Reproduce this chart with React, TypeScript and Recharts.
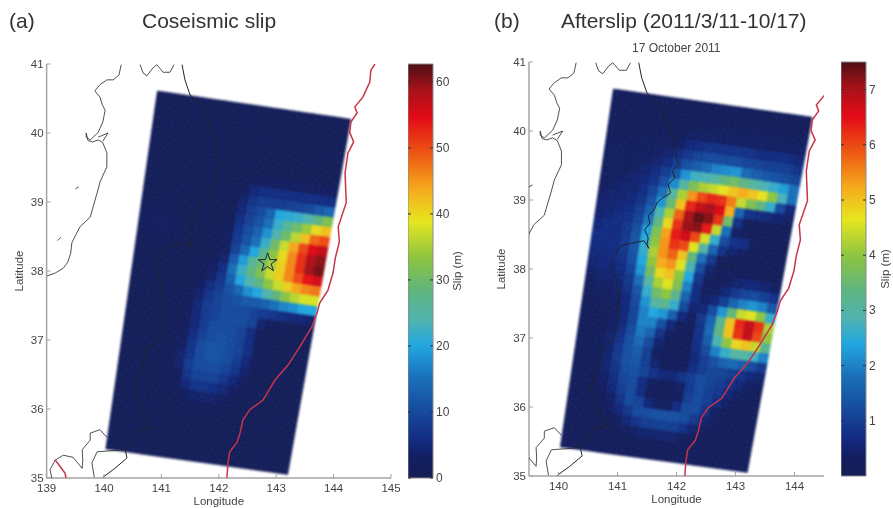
import { BarChart, Bar, ScatterChart, Scatter, XAxis, YAxis, Symbols } from 'recharts';

// slip grids, rows run from the top edge of the fault plane to the bottom
const coseismicRows = [
  [1,1,1,1,1,1,1,1,1,1,1,1,1,1,1,1,1,1,1,1],
  [1,1,1,1,1,1,1,1,1,1,1,1,1,1,1,1,1,1,1,1],
  [1,1,1,1,1,1,1,1,1,1,1,1,1,1,1,1,1,1,1,1],
  [1,1,1,1,1,1,1,1,1,1,1,1,1,1,1,1,1,1,1,1],
  [1,1,1,1,1,1,1,1,1,1,1,1,1,1,1,1,1,1,1,1],
  [1,1,1,1,1,1,1,1,1,1,1,1,1,1,1,1,1,1,1,1],
  [1,1,1,1,1,1,1,1,1,1,1,1,1,1,1,1,1,1,1,1],
  [1,1,1,1,1,1,1,1,1,1,1,2,3,3,3,3,3,3,3,3],
  [1,1,1,1,1,1,1,1,1,1,2,5,6,6,6,6,6,6,6,6],
  [1,1,1,1,1,1,1,1,1,1,4,7,8,8,8,9,9,10,12,14],
  [1,1,2,1,1,1,1,1,1,1,5,8,10,13,20,21,22,24,28,32],
  [2,2,2,1,1,1,1,1,1,2,6,9,11,15,22,26,30,34,40,42],
  [2,3,3,2,1,1,1,1,1,3,7,10,13,18,24,30,36,42,48,50],
  [2,3,3,2,1,1,1,1,1,3,8,11,15,22,30,37,44,50,55,57],
  [1,2,2,1,1,1,1,1,1,3,9,14,20,27,33,40,46,52,58,60],
  [1,1,1,1,1,1,1,1,2,4,12,19,26,30,35,41,46,52,59,61],
  [1,1,1,1,1,1,1,1,3,6,15,22,28,32,37,41,46,50,54,56],
  [1,1,1,1,1,1,1,1,4,7,13,20,24,28,33,37,41,44,46,47],
  [1,1,1,1,1,1,1,3,6,8,11,14,18,20,24,28,33,36,38,38],
  [1,1,1,1,1,1,2,4,7,9,10,11,12,12,13,15,17,18,20,20],
  [1,1,1,1,1,1,2,5,8,9,10,10,10,9,8,7,6,5,5,4],
  [1,1,1,1,1,1,2,5,8,9,10,10,10,9,4,2,2,1,1,1],
  [1,1,1,1,1,1,2,5,8,10,10,10,9,6,2,1,1,1,1,1],
  [1,1,1,1,1,1,3,6,9,10,11,10,9,6,2,1,1,1,1,1],
  [1,1,1,1,1,1,3,7,10,11,11,10,9,6,2,1,1,1,1,1],
  [1,1,1,1,1,1,4,7,10,11,11,10,8,5,2,1,1,1,1,1],
  [1,1,1,1,1,1,4,8,10,10,10,9,7,4,1,1,1,1,1,1],
  [1,1,1,1,1,1,3,7,9,9,9,7,5,3,1,1,1,1,1,1],
  [1,1,1,1,1,1,2,5,7,7,6,5,3,2,1,1,1,1,1,1],
  [1,1,1,1,1,1,1,3,4,4,4,3,2,1,1,1,1,1,1,1],
  [1,1,1,1,1,1,1,1,2,2,2,1,1,1,1,1,1,1,1,1],
  [1,1,1,1,1,1,1,1,1,1,1,1,1,1,1,1,1,1,1,1],
  [1,1,1,1,1,1,1,1,1,1,1,1,1,1,1,1,1,1,1,1],
  [1,1,1,1,1,1,1,1,1,1,1,1,1,1,1,1,1,1,1,1],
  [1,1,1,1,1,1,1,1,1,1,1,1,1,1,1,1,1,1,1,1],
  [1,1,1,1,1,1,1,1,1,1,1,1,1,1,1,1,1,1,1,1],
];

// afterslip in tenths of a metre
const afterslipRows = [
  [2,2,2,2,2,2,2,2,2,2,2,2,2,2,2,2,2,2,2,2],
  [2,2,2,2,2,2,2,2,2,2,2,2,2,2,2,2,2,2,2,2],
  [2,2,2,2,2,2,2,2,2,2,3,3,3,3,3,3,3,3,3,3],
  [2,2,2,2,2,2,2,2,4,4,4,4,4,4,4,4,4,4,4,4],
  [2,2,2,3,3,3,3,4,6,7,8,8,8,8,8,7,7,7,7,6],
  [3,3,3,3,3,4,5,7,9,11,12,12,12,12,11,11,10,10,10,8],
  [3,3,3,3,4,5,7,10,13,15,17,20,21,22,17,15,14,13,12,11],
  [3,3,3,4,5,7,10,14,22,27,28,30,34,36,33,30,28,26,23,18],
  [3,3,4,5,6,8,13,21,30,38,42,44,47,50,52,50,47,40,28,18],
  [3,4,5,5,7,11,18,30,42,54,60,63,62,56,44,38,34,26,12,6],
  [4,5,5,6,8,13,22,35,50,63,68,70,66,52,16,8,7,6,5,4],
  [5,5,6,7,10,16,28,42,58,70,74,72,62,36,8,3,2,2,2,2],
  [5,6,7,8,11,19,33,48,62,71,72,64,44,18,4,2,2,2,2,2],
  [6,7,7,9,13,23,38,53,64,67,60,45,26,12,8,7,3,2,2,2],
  [7,7,7,9,14,25,40,54,62,60,46,30,16,8,5,3,2,2,2,2],
  [7,7,7,9,14,26,42,54,58,50,34,18,9,4,3,2,2,2,2,2],
  [6,6,7,8,13,24,40,52,54,46,28,12,5,2,2,2,2,2,2,2],
  [5,6,6,7,11,22,36,48,50,40,24,9,3,2,3,5,6,6,5,4],
  [4,5,5,6,9,18,30,42,46,38,20,7,3,3,6,9,11,12,10,8],
  [3,4,4,5,8,14,26,36,40,32,16,7,4,6,10,16,20,22,20,14],
  [2,3,3,4,6,12,22,30,32,26,12,5,6,12,22,34,44,46,40,26],
  [2,2,3,3,6,11,20,24,22,15,6,3,9,16,32,50,63,68,62,42],
  [2,2,2,3,6,11,20,20,13,6,2,2,8,17,33,50,62,68,60,40],
  [2,2,2,4,7,12,19,16,8,3,2,2,8,15,28,40,48,50,44,32],
  [2,2,3,5,8,13,17,12,5,2,2,2,7,12,20,26,30,30,27,20],
  [2,2,3,5,9,13,15,10,3,2,2,2,6,10,13,16,17,15,12,9],
  [2,2,3,5,9,13,14,10,5,2,2,3,7,10,11,11,10,8,6,5],
  [2,2,3,5,8,12,13,11,8,6,6,8,10,12,11,10,8,6,4,3],
  [2,2,2,4,7,11,12,7,3,2,2,4,9,12,10,9,6,4,3,2],
  [2,2,2,3,6,10,12,7,2,2,2,3,10,12,10,7,4,2,2,2],
  [2,2,2,2,4,8,12,11,6,3,3,7,12,12,8,4,2,2,2,2],
  [2,2,2,2,3,6,9,12,12,13,13,13,12,9,5,3,2,2,2,2],
  [2,2,2,2,2,3,6,8,10,10,10,10,8,5,3,2,2,2,2,2],
  [2,2,2,2,2,2,3,4,5,5,5,5,3,2,2,2,2,2,2,2],
  [2,2,2,2,2,2,2,2,2,2,2,2,2,2,2,2,2,2,2,2],
  [2,2,2,2,2,2,2,2,2,2,2,2,2,2,2,2,2,2,2,2],
];

// fault plane corners, lon / lat
const planeTopLeft = [140.93, 40.61];
const planeTopRight = [144.3, 40.2];
const planeBottomLeft = [140.03, 35.42];
const planeBottomRight = [143.2, 35.05];

const epicentre = [{ lon: 142.85, lat: 38.12 }];

const coastNorthWest = [[140.30,40.99],[140.26,40.84],[140.16,40.77],[140.05,40.77],[139.93,40.70],[139.84,40.61],[139.93,40.52],[139.97,40.41],[140.02,40.33],[139.98,40.16],[139.90,40.01],[139.76,39.90],[139.69,39.94],[139.69,40.00],[139.72,39.89],[139.80,39.87],[139.90,39.90],[139.98,39.86],[140.05,39.71],[140.05,39.51],[139.93,39.29],[139.88,39.13],[139.81,38.93],[139.76,38.78],[139.58,38.64],[139.44,38.41],[139.42,38.26],[139.37,38.13],[139.29,38.04],[139.15,37.97],[139.01,37.93]];
const coastLagoon = [[139.90,39.94],[140.07,40.0],[139.98,39.88]];
const coastMutsu = [[140.63,40.99],[140.68,40.87],[140.75,40.83],[140.85,40.94],[140.92,40.99],[141.03,40.88],[141.15,40.88],[141.22,40.99]];
const coastPacific = [[141.36,40.99],[141.41,40.77],[141.50,40.55],[141.67,40.43],[141.79,40.29],[141.85,40.12],[141.97,39.86],[141.99,39.62],[142.04,39.51],[141.93,39.43],[141.97,39.32],[141.86,39.22],[141.90,39.10],[141.76,39.03],[141.67,38.96],[141.62,38.86],[141.52,38.77],[141.55,38.67],[141.46,38.57],[141.52,38.45],[141.50,38.35],[141.53,38.30],[141.45,38.41],[141.10,38.35],[141.03,38.30],[140.92,38.16],[140.89,38.04],[140.98,37.87],[141.03,37.58],[141.01,37.19],[140.92,36.97],[140.75,36.88],[140.66,36.61],[140.54,36.28],[140.63,35.99],[140.77,35.77],[140.85,35.72],[140.63,35.70],[140.49,35.58],[140.37,35.41],[140.40,35.29],[140.19,35.14],[139.98,35.01]];
const coastBay = [[140.05,35.59],[139.93,35.70],[139.76,35.65],[139.76,35.55],[139.62,35.41],[139.63,35.26],[139.62,35.14],[139.46,35.30],[139.29,35.33],[139.15,35.26],[139.06,35.12],[139.09,35.0]];
const coastBoso = [[140.37,35.41],[139.88,35.38],[139.79,35.22],[139.83,35.01]];
const islandSado = [[139.50,39.19],[139.56,39.22]];
const islandAwa = [[139.19,38.44],[139.25,38.49]];

const trenchJapan = [[144.72,41.0],[144.65,40.91],[144.63,40.74],[144.51,40.52],[144.37,40.38],[144.41,40.29],[144.30,40.16],[144.28,40.01],[144.35,39.87],[144.25,39.71],[144.20,39.42],[144.22,38.99],[144.08,38.64],[144.10,38.42],[144.03,38.19],[143.99,37.97],[143.90,37.72],[143.76,37.54],[143.71,37.39],[143.62,37.19],[143.41,36.90],[143.21,36.64],[142.98,36.42],[142.77,36.13],[142.54,35.99],[142.42,35.84],[142.37,35.65],[142.32,35.52],[142.19,35.38],[142.16,35.22],[142.14,35.0]];
const trenchSagami = [[139.15,35.26],[139.32,35.07],[139.34,35.0]];

const coastLines = [coastNorthWest, coastLagoon, coastMutsu, coastPacific, coastBay, coastBoso, islandSado, islandAwa];

const latTicks = [35, 36, 37, 38, 39, 40, 41];
const lonTicksA = [139, 140, 141, 142, 143, 144, 145];
const lonTicksB = [140, 141, 142, 143, 144];
const slipTicksA = [0, 10, 20, 30, 40, 50, 60];
const slipTicksB = [1, 2, 3, 4, 5, 6, 7];

const colorOffsets = [0, 0.05, 0.09, 0.16, 0.24, 0.32, 0.38, 0.45, 0.53, 0.62, 0.7, 0.78, 0.87, 0.94, 1];
const colorValues = ['#151d55', '#131f62', '#122a80', '#164a9d', '#1a6fb8', '#22a7e0', '#4fb3b0', '#5fb57f', '#8cc441', '#e6e620', '#f5a81c', '#ee5a14', '#e30a17', '#a5121a', '#4d0f14'];

const TEXT = '#444444';
const AXIS = '#a3a3a3';

function jet(f: number) {
  const t = Math.min(1, Math.max(0, f));
  let k = 0;
  while (k < colorOffsets.length - 2 && t > colorOffsets[k + 1]) k++;
  const m = (t - colorOffsets[k]) / (colorOffsets[k + 1] - colorOffsets[k]);
  const rgb = (s: string) => [1, 3, 5].map((p) => parseInt(s.slice(p, p + 2), 16));
  const a = rgb(colorValues[k]);
  const b = rgb(colorValues[k + 1]);
  return `rgb(${a.map((v, n) => Math.round(v + (b[n] - v) * m)).join(',')})`;
}

function planePoint(u: number, v: number) {
  return [0, 1].map((n) => {
    const top = planeTopLeft[n] + (planeTopRight[n] - planeTopLeft[n]) * u;
    const bottom = planeBottomLeft[n] + (planeBottomRight[n] - planeBottomLeft[n]) * u;
    return top + (bottom - top) * v;
  });
}

function buildCells(rows: number[][], scale: number, max: number) {
  const ny = rows.length;
  const cells: any[] = [];
  rows.forEach((row, j) => {
    const nx = row.length;
    row.forEach((value, i) => {
      const [lon, lat] = planePoint((i + 0.5) / nx, (j + 0.5) / ny);
      cells.push({
        lon,
        lat,
        color: jet((value * scale) / max),
        corners: [
          planePoint(i / nx, j / ny),
          planePoint((i + 1) / nx, j / ny),
          planePoint((i + 1) / nx, (j + 1) / ny),
          planePoint(i / nx, (j + 1) / ny),
        ],
      });
    });
  });
  return cells;
}

const toPoints = (line: number[][]) => line.map(([lon, lat]) => ({ lon, lat }));
const noDot = () => <g />;

function LonTick({ x, y, payload }: any) {
  return (
    <g>
      <line x1={x} x2={x} y1={y} y2={y - 4} stroke={AXIS} />
      <text x={x} y={y + 14} textAnchor="middle" fontSize={11.5} fill={TEXT}>{payload.value}</text>
    </g>
  );
}

function LatTick({ x, y, payload }: any) {
  return (
    <g>
      <line x1={x} x2={x + 4} y1={y} y2={y} stroke={AXIS} />
      <text x={x - 3} y={y + 4} textAnchor="end" fontSize={11.5} fill={TEXT}>{payload.value}</text>
    </g>
  );
}

function SlipPanel({ left, width, plotLeft, plotRight, plotTop, plotBottom, lonDomain, lonTicks, cells }: any) {
  const kx = (plotRight - plotLeft) / (lonDomain[1] - lonDomain[0]);
  const ky = (plotBottom - plotTop) / 6;
  const CellShape = ({ cx, cy, payload }: any) => (
    <g>
      <polygon
        points={payload.corners.map(([lo, la]: number[]) => `${cx + (lo - payload.lon) * kx},${cy - (la - payload.lat) * ky}`).join(' ')}
        fill={payload.color}
        stroke={payload.color}
        strokeWidth={0.6}
      />
      <circle cx={cx} cy={cy} r={0.6} fill="#ffffff" fillOpacity={0.3} />
    </g>
  );
  return (
    <div style={{ position: 'absolute', left, top: 0 }}>
      <ScatterChart
        width={width}
        height={508}
        margin={{ left: plotLeft - left - 40, right: left + width - plotRight, top: plotTop, bottom: 508 - plotBottom - 30 }}
      >
        <XAxis
          type="number"
          dataKey="lon"
          domain={lonDomain}
          ticks={lonTicks}
          interval={0}
          allowDataOverflow
          height={30}
          tickSize={0}
          tickMargin={0}
          tick={<LonTick />}
          stroke={AXIS}
          strokeWidth={1.5}
          label={{ value: 'Longitude', position: 'insideBottom', offset: 3, fontSize: 11.5, fill: TEXT }}
        />
        <YAxis
          type="number"
          dataKey="lat"
          domain={[35, 41]}
          ticks={latTicks}
          interval={0}
          allowDataOverflow
          width={40}
          tickSize={0}
          tickMargin={0}
          tick={<LatTick />}
          stroke={AXIS}
          strokeWidth={1.5}
          label={{ value: 'Latitude', angle: -90, position: 'insideLeft', offset: 12, fontSize: 11.5, fill: TEXT, style: { textAnchor: 'middle' } }}
        />
        <Scatter className="slip-cells" data={cells} shape={CellShape} isAnimationActive={false} />
        {coastLines.map((line, n) => (
          <Scatter key={n} data={toPoints(line)} line={{ stroke: '#22242c', strokeWidth: line === coastPacific ? 1 : 0.8 }} lineType="joint" shape={noDot} isAnimationActive={false} />
        ))}
        <Scatter data={toPoints(trenchJapan)} line={{ stroke: '#c8344a', strokeWidth: 1.5 }} lineType="joint" shape={noDot} isAnimationActive={false} />
        <Scatter data={toPoints(trenchSagami)} line={{ stroke: '#c8344a', strokeWidth: 1.5 }} lineType="joint" shape={noDot} isAnimationActive={false} />
        <Scatter
          data={epicentre}
          shape={({ cx, cy }: any) => <Symbols cx={cx} cy={cy} type="star" size={110} fill="none" stroke="#1a2340" strokeWidth={1} />}
          isAnimationActive={false}
        />
      </ScatterChart>
    </div>
  );
}

function SlipBar({ id, left, top, bottom, max, ticks, labelOffset }: any) {
  const barWidth = 25;
  const SlipTick = ({ x, y, payload }: any) => (
    <g>
      <line x1={x - barWidth} x2={x - barWidth + 3} y1={y} y2={y} stroke="#30343c" />
      <line x1={x - 3} x2={x} y1={y} y2={y} stroke="#30343c" />
      <text x={x + 3} y={y + 4} fontSize={12} fill={TEXT}>{payload.value}</text>
    </g>
  );
  return (
    <div style={{ position: 'absolute', left, top: 0 }}>
      <BarChart
        width={barWidth + 40}
        height={508}
        data={[{ name: 'slip', slip: max }]}
        barCategoryGap={0}
        margin={{ left: 0, right: 0, top, bottom: 508 - bottom }}
        style={{ overflow: 'visible' }}
      >
        <defs>
          <linearGradient id={id} x1="0" y1="1" x2="0" y2="0">
            {colorOffsets.map((o, n) => <stop key={n} offset={o} stopColor={colorValues[n]} />)}
          </linearGradient>
        </defs>
        <XAxis dataKey="name" hide />
        <YAxis
          orientation="right"
          type="number"
          domain={[0, max]}
          ticks={ticks}
          interval={0}
          width={40}
          tickSize={0}
          tickMargin={0}
          axisLine={false}
          tick={<SlipTick />}
          label={{ value: 'Slip (m)', angle: -90, position: 'insideRight', offset: labelOffset, fontSize: 11.5, fill: TEXT, style: { textAnchor: 'middle' } }}
        />
        <Bar dataKey="slip" fill={`url(#${id})`} stroke="#8a8a8a" isAnimationActive={false} />
      </BarChart>
    </div>
  );
}

const coseismicCells = buildCells(coseismicRows, 1, 62.7);
const afterslipCells = buildCells(afterslipRows, 0.1, 7.5);

const titleStyle = { position: 'absolute', fontSize: 21, color: '#333333', whiteSpace: 'nowrap', lineHeight: '22px' } as const;

export default function App() {
  return (
    <div style={{ position: 'absolute', left: 0, top: 0, width: 893, height: 508, background: '#ffffff', overflow: 'hidden', fontFamily: '"Liberation Sans", Arial, sans-serif', filter: 'blur(0.4px)' }}>
      <style>{'.slip-cells { filter: blur(0.9px); }'}</style>
      <SlipPanel left={0} width={400} plotLeft={46.6} plotRight={391} plotTop={64} plotBottom={478} lonDomain={[139, 145]} lonTicks={lonTicksA} cells={coseismicCells} />
      <SlipPanel left={480} width={350} plotLeft={529} plotRight={824} plotTop={62} plotBottom={476} lonDomain={[139.5, 144.5]} lonTicks={lonTicksB} cells={afterslipCells} />
      <SlipBar id="slipA" left={408} top={64} bottom={478} max={62.7} ticks={slipTicksA} labelOffset={16} />
      <SlipBar id="slipB" left={841} top={62} bottom={476} max={7.5} ticks={slipTicksB} labelOffset={21} />
      <div style={{ ...titleStyle, left: 9, top: 10 }}>(a)</div>
      <div style={{ ...titleStyle, left: 142, top: 10 }}>Coseismic slip</div>
      <div style={{ ...titleStyle, left: 494, top: 10 }}>(b)</div>
      <div style={{ ...titleStyle, left: 561, top: 10 }}>Afterslip (2011/3/11-10/17)</div>
      <div style={{ position: 'absolute', left: 632, top: 41, fontSize: 12, color: TEXT, whiteSpace: 'nowrap' }}>17 October 2011</div>
    </div>
  );
}
